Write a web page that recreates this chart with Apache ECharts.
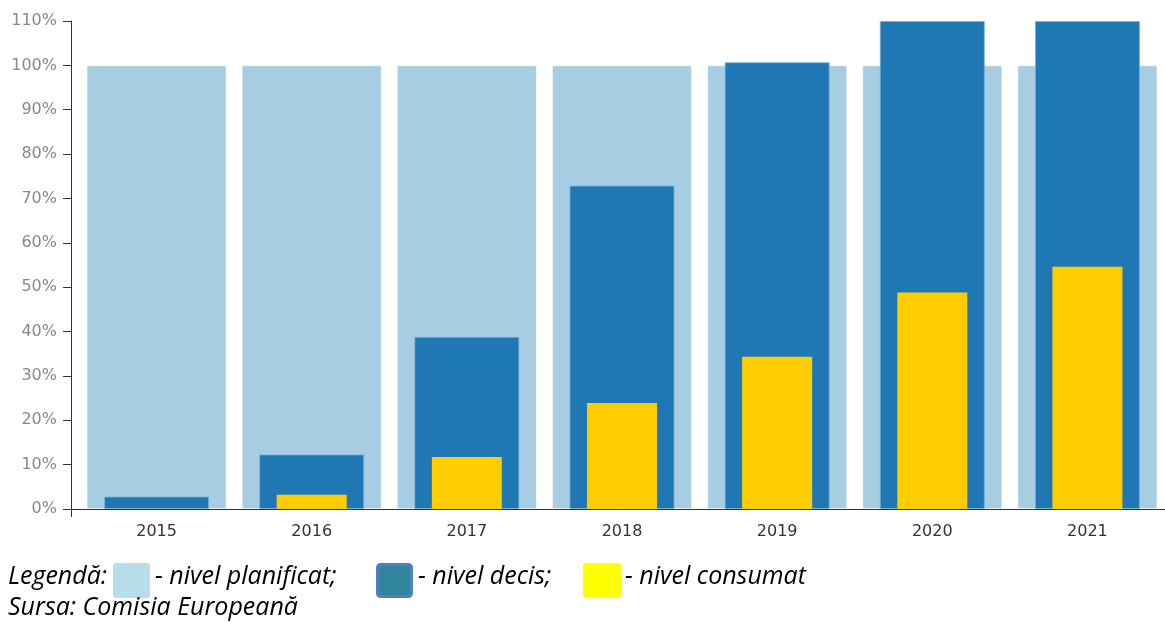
<!DOCTYPE html>
<html>
<head>
<meta charset="utf-8">
<script src="https://cdn.jsdelivr.net/npm/echarts@6/dist/echarts.min.js"></script>
<style>
  html, body { margin: 0; padding: 0; background: #fff; }
  #chart { width: 1165px; height: 623px; }
</style>
</head>
<body>
<div id="chart"></div>
<script>
// Years on the horizontal axis
const years = ['2015', '2016', '2017', '2018', '2019', '2020', '2021'];
// Share of funds per year, in percent
const planned  = [100, 100, 100, 100, 100, 100, 100];
const decided  = [2.8, 12.3, 38.8, 72.9, 100.7, 110, 110];
const consumed = [0, 3.2, 11.7, 23.9, 34.3, 48.8, 54.6];
// Percent axis ticks
const yTicks = [0, 10, 20, 30, 40, 50, 60, 70, 80, 90, 100, 110];

const GRID_LEFT = 79, GRID_TOP = 21, GRID_H = 488, GRID_W = 1092;
const Y_OFFSET = 8;
const AXIS_COLOR = '#333';
const AXIS_FONT = 'DejaVu Sans';

const chart = echarts.init(document.getElementById('chart'), null, { renderer: 'canvas' });

const legendFont = 'italic 25px "Open Sans", "Noto Sans", sans-serif';

// one category axis per series so that bars of different widths share the same centre
const visibleX = {
  type: 'category',
  data: years,
  axisLine: { lineStyle: { color: AXIS_COLOR, width: 1 } },
  axisTick: { alignWithLabel: true, length: 8, lineStyle: { color: AXIS_COLOR } },
  axisLabel: { color: '#333', fontSize: 16, fontFamily: AXIS_FONT, margin: 15 },
  splitLine: { show: false }
};
const hiddenX = { type: 'category', data: years, show: false };

const option = {
  animation: false,
  backgroundColor: '#fff',
  grid: { left: GRID_LEFT, top: GRID_TOP, height: GRID_H, width: GRID_W, containLabel: false },
  xAxis: [visibleX, hiddenX, hiddenX],
  yAxis: {
    type: 'value',
    min: yTicks[0],
    max: yTicks[yTicks.length - 1],
    interval: 10,
    offset: Y_OFFSET,
    axisLine: { show: true, lineStyle: { color: AXIS_COLOR, width: 1 } },
    axisTick: { show: true, length: 8, lineStyle: { color: AXIS_COLOR } },
    axisLabel: {
      color: '#888', fontSize: 16, fontFamily: AXIS_FONT, margin: 14,
      formatter: v => v + '%'
    },
    splitLine: { show: false }
  },
  series: [
    {
      name: 'nivel planificat', type: 'bar', xAxisIndex: 0, data: planned, barWidth: 140,
      itemStyle: { color: '#a6cde2', borderColor: 'rgba(255,255,255,0.45)', borderWidth: 1 }
    },
    {
      name: 'nivel decis', type: 'bar', xAxisIndex: 1, data: decided, barWidth: 105,
      itemStyle: { color: '#1f78b4', borderColor: 'rgba(120,175,215,0.8)', borderWidth: 1 }
    },
    {
      name: 'nivel consumat', type: 'bar', xAxisIndex: 2, data: consumed, barWidth: 70,
      itemStyle: { color: '#ffcc00' }
    }
  ],
  graphic: [
    // start of the category axis line and its outer tick, joined to the offset value axis
    {
      type: 'polyline', silent: true, z: 10,
      shape: { points: [[GRID_LEFT - Y_OFFSET + 0.5, GRID_TOP + GRID_H + 8], [GRID_LEFT - Y_OFFSET + 0.5, GRID_TOP + GRID_H + 0.5], [GRID_LEFT, GRID_TOP + GRID_H + 0.5]] },
      style: { stroke: AXIS_COLOR, lineWidth: 1, fill: null }
    },
    // legend row
    { type: 'text', left: 8, top: 564, style: { text: 'Legendă:', font: legendFont, fill: '#000' } },
    { type: 'rect', shape: { x: 113, y: 563, width: 37, height: 35, r: 3 }, style: { fill: '#b7dde8' } },
    { type: 'text', left: 155, top: 564, style: { text: '- nivel planificat;', font: legendFont, fill: '#000' } },
    { type: 'rect', shape: { x: 377.5, y: 564.5, width: 34, height: 32, r: 3 }, style: { fill: '#31859c', stroke: '#4f81bd', lineWidth: 3 } },
    { type: 'text', left: 418, top: 564, style: { text: '- nivel decis;', font: legendFont, fill: '#000' } },
    { type: 'rect', shape: { x: 583, y: 563, width: 38, height: 35, r: 3 }, style: { fill: '#ffff00' } },
    { type: 'text', left: 625, top: 564, style: { text: '- nivel consumat', font: legendFont, fill: '#000' } },
    // source line
    { type: 'text', left: 8, top: 595, style: { text: 'Sursa: Comisia Europeană', font: legendFont, fill: '#000' } }
  ]
};

chart.setOption(option);
</script>
</body>
</html>
